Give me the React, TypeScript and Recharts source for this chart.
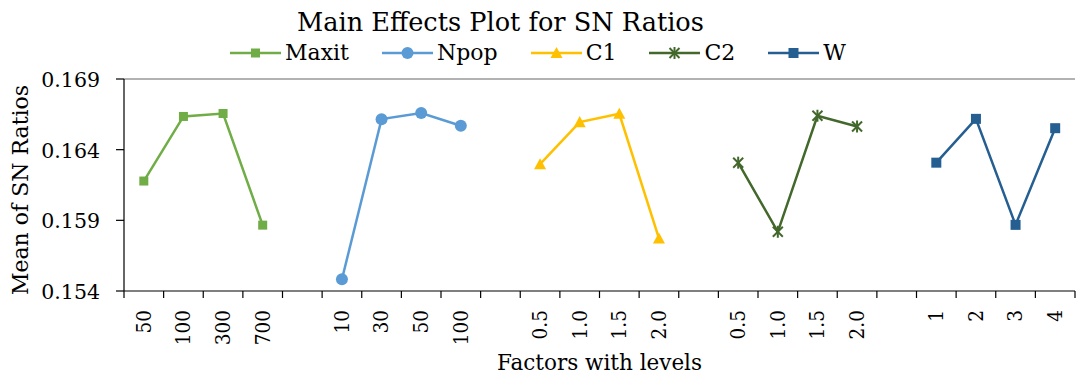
import React from "react";
import { Label, Legend, Line, LineChart, ReferenceLine, XAxis, YAxis } from "recharts";

// factors and their levels (one slot gap between factor groups)
const FACTORS = ["Maxit", "Npop", "C1", "C2", "W"];
const MAXIT_LEVELS = ["50", "100", "300", "700"];
const NPOP_LEVELS = ["10", "30", "50", "100"];
const C1_LEVELS = ["0.5", "1.0", "1.5", "2.0"];
const C2_LEVELS = ["0.5", "1.0", "1.5", "2.0"];
const W_LEVELS = ["1", "2", "3", "4"];

// mean of SN ratios
const MAXIT_SN = [0.16178, 0.16635, 0.16656, 0.15866];
const NPOP_SN = [0.15483, 0.16616, 0.16659, 0.16569];
const C1_SN = [0.16297, 0.16595, 0.16654, 0.15772];
const C2_SN = [0.16308, 0.15819, 0.1664, 0.16564];
const W_SN = [0.16308, 0.16618, 0.15868, 0.16552];

const Y_TICKS = [0.154, 0.159, 0.164, 0.169];

const LEVELS = [MAXIT_LEVELS, NPOP_LEVELS, C1_LEVELS, C2_LEVELS, W_LEVELS];
const VALUES = [MAXIT_SN, NPOP_SN, C1_SN, C2_SN, W_SN];

const SLOTS = FACTORS.length * 5 - 1;
const rows: Record<string, any>[] = [];
FACTORS.forEach((f, k) => {
    LEVELS[k].forEach((lvl, j) => {
        rows.push({ x: k * 5 + j + 0.5, label: lvl, [f]: VALUES[k][j] });
    });
});
const X_TICKS = Array.from({ length: SLOTS + 1 }, (_, i) => i);

const STYLES: Record<string, { color: string; marker: string; size: number }> = {
    Maxit: { color: "#70AD47", marker: "square", size: 9 },
    Npop: { color: "#5B9BD5", marker: "circle", size: 12 },
    C1: { color: "#FFC000", marker: "triangle", size: 12 },
    C2: { color: "#43682B", marker: "star", size: 10 },
    W: { color: "#255E91", marker: "square", size: 10 },
};

const W = 1076;
const H = 376;
const MARGIN = { top: 79, right: 1, bottom: 0, left: 0 };
const Y_AXIS_W = 124;
const X_AXIS_H = 85;
const SLOT_W = (W - MARGIN.left - MARGIN.right - Y_AXIS_W) / SLOTS;
const FONT = "'DejaVu Serif', serif";

function marker(kind: string, cx: number, cy: number, color: string, size: number, key?: string | number) {
    const h = size / 2;
    if (kind === "square") {
        return <rect key={key} x={cx - h} y={cy - h} width={size} height={size} fill={color} />;
    }
    if (kind === "circle") {
        return <circle key={key} cx={cx} cy={cy} r={h} fill={color} />;
    }
    if (kind === "triangle") {
        return (
            <polygon
                key={key}
                points={`${cx},${cy - h} ${cx + h},${cy + h * 0.85} ${cx - h},${cy + h * 0.85}`}
                fill={color}
            />
        );
    }
    return (
        <g key={key} stroke={color} strokeWidth={2}>
            <line x1={cx - h} y1={cy - h} x2={cx + h} y2={cy + h} />
            <line x1={cx - h} y1={cy + h} x2={cx + h} y2={cy - h} />
            <line x1={cx} y1={cy - h - 1} x2={cx} y2={cy + h + 1} />
        </g>
    );
}

const XTick = (props: any) => {
    const { x, y, payload } = props;
    const row = rows.find((r) => r.x === payload.value + 0.5);
    if (!row) return <g />;
    const cx = x + SLOT_W / 2;
    return (
        <text
            transform={`translate(${cx},${y}) rotate(-90) scale(1,1.15)`}
            textAnchor="end"
            dominantBaseline="central"
            style={{ fontFamily: FONT }}
            fontSize={18.5}
            fill="#000"
        >
            {row.label}
        </text>
    );
};

const YTick = (props: any) => {
    const { x, y, payload } = props;
    return (
        <text
            x={x}
            y={y + 1}
            textAnchor="end"
            dominantBaseline="central"
            style={{ fontFamily: FONT }}
            fontSize={20.5}
            fill="#000"
        >
            {payload.value.toFixed(3)}
        </text>
    );
};

const LegendRow = () => (
    <div
        style={{
            display: "flex",
            justifyContent: "center",
            alignItems: "center",
            gap: 33,
            fontFamily: FONT,
            fontSize: 22,
            lineHeight: "30px",
            color: "#000",
        }}
    >
        {FACTORS.map((f) => {
            const s = STYLES[f];
            return (
                <div key={f} style={{ display: "flex", alignItems: "center" }}>
                    <svg width={51} height={16}>
                        <line x1={0} y1={8} x2={51} y2={8} stroke={s.color} strokeWidth={2.5} />
                        {marker(s.marker, 25.5, 8, s.color, s.size)}
                    </svg>
                    <span style={{ marginLeft: 4 }}>{f}</span>
                </div>
            );
        })}
    </div>
);

export default function App() {
    return (
        <div
            style={{
                position: "absolute",
                left: 0,
                top: 0,
                width: W,
                height: H,
                background: "#fff",
                fontFamily: FONT,
            }}
        >
            <div
                style={{
                    position: "absolute",
                    left: 0,
                    top: 10,
                    width: 1001,
                    textAlign: "center",
                    fontSize: 25.6,
                    lineHeight: 1,
                    color: "#000",
                    zIndex: 2,
                }}
            >
                Main Effects Plot for SN Ratios
            </div>
            <LineChart width={W} height={H} data={rows} margin={MARGIN} style={{ fontFamily: FONT }}>
                <ReferenceLine y={0.169} stroke="#666" strokeWidth={1.2} />
                <XAxis
                    type="number"
                    dataKey="x"
                    domain={[0, SLOTS]}
                    ticks={X_TICKS}
                    interval={0}
                    height={X_AXIS_H}
                    axisLine={{ stroke: "#000", strokeWidth: 1.2 }}
                    tickLine={{ stroke: "#000", strokeWidth: 1.2 }}
                    tickSize={7}
                    tickMargin={12}
                    tick={<XTick />}
                >
                    <Label
                        value="Factors with levels"
                        position="insideBottom"
                        offset={6}
                        fill="#000"
                        fontSize={21.5}
                        style={{ fontFamily: FONT }}
                    />
                </XAxis>
                <YAxis
                    type="number"
                    domain={[0.154, 0.169]}
                    ticks={Y_TICKS}
                    width={Y_AXIS_W}
                    axisLine={{ stroke: "#000", strokeWidth: 1.2 }}
                    tickLine={{ stroke: "#000", strokeWidth: 1.2 }}
                    tickSize={8}
                    tickMargin={16}
                    tick={<YTick />}
                    label={{
                        content: () => (
                            <text
                                x={28}
                                y={190}
                                transform="rotate(-90 28 190)"
                                textAnchor="middle"
                                style={{ fontFamily: FONT }}
                                fontSize={22}
                                fill="#000"
                            >
                                Mean of SN Ratios
                            </text>
                        ),
                    }}
                />
                <Legend
                    verticalAlign="middle"
                    align="center"
                    layout="horizontal"
                    wrapperStyle={{ top: 38, left: 0, width: W }}
                    content={() => <LegendRow />}
                />
                {FACTORS.map((f) => {
                    const s = STYLES[f];
                    return (
                        <Line
                            key={f}
                            dataKey={f}
                            stroke={s.color}
                            strokeWidth={2.5}
                            connectNulls={false}
                            isAnimationActive={false}
                            activeDot={false}
                            dot={(p: any) => {
                                if (p.cy == null || p.value == null) return <g key={p.key ?? p.index} />;
                                return marker(s.marker, p.cx, p.cy, s.color, s.size, p.key ?? p.index);
                            }}
                        />
                    );
                })}
            </LineChart>
        </div>
    );
}
